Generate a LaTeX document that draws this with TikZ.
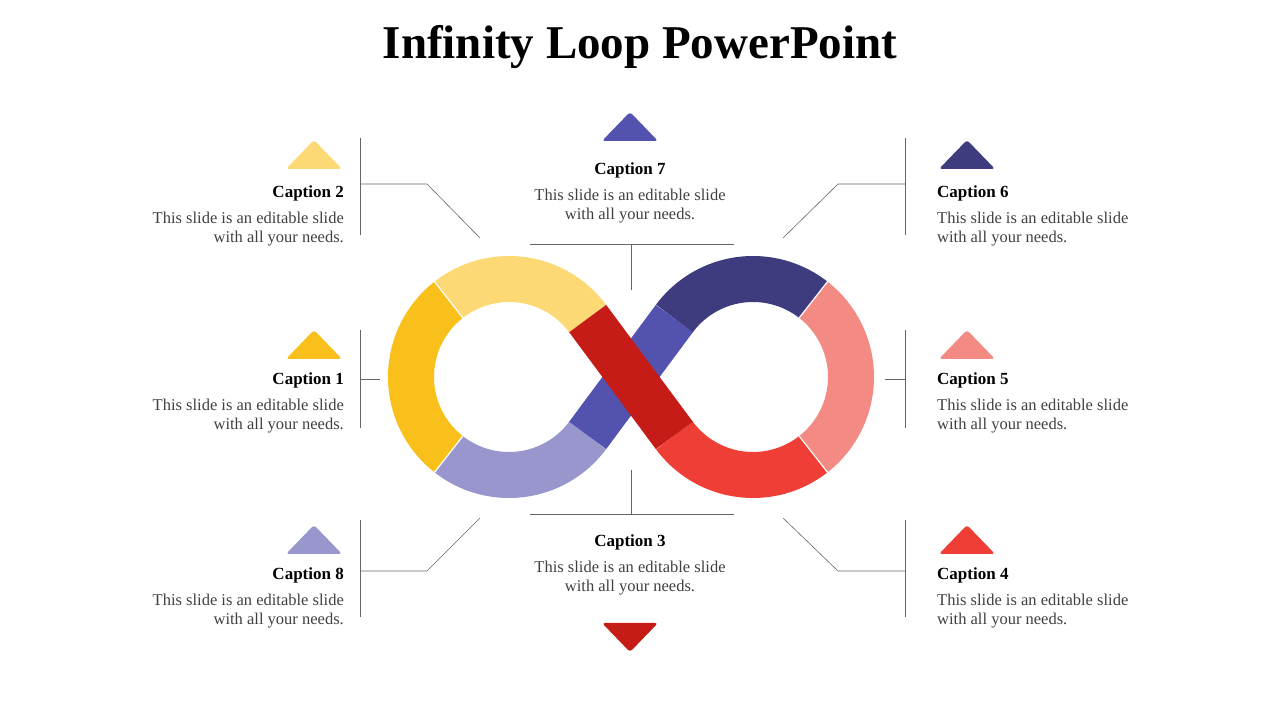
\documentclass[tikz,border=0pt]{standalone}
\usepackage{fontspec}
\setmainfont{Liberation Serif}
\usetikzlibrary{calc}
\definecolor{ylt}{HTML}{FCD975}
\definecolor{ydk}{HTML}{F9BF1A}
\definecolor{lav}{HTML}{9896CC}
\definecolor{blu}{HTML}{5352AE}
\definecolor{nav}{HTML}{3E3B7E}
\definecolor{sal}{HTML}{F48A84}
\definecolor{rdl}{HTML}{EE3E36}
\definecolor{rdd}{HTML}{C51C17}
\definecolor{txt}{HTML}{404040}
\tikzset{
 band/.style={line width=46pt},
 conn/.style={draw=gray!80!black,line width=0.6pt},
 ttl/.style={font=\fontsize{17}{20}\selectfont\bfseries,inner sep=0},
 body/.style={font=\fontsize{16.5}{19}\selectfont,text=txt,inner sep=0},
 sep/.style={white,line width=1.2pt}
}
\newcommand\uptri[3]{\fill[#3,rounded corners=3pt] (#1-28,#2-14) -- (#1+28,#2-14) -- (#1,#2+15) -- cycle;}
\newcommand\dntri[3]{\fill[#3,rounded corners=3pt] (#1-28,#2+14) -- (#1+28,#2+14) -- (#1,#2-15) -- cycle;}
\begin{document}
\begin{tikzpicture}[x=1pt,y=1pt]
\useasboundingbox (0,0) rectangle (1280,720);
\node[font=\fontsize{47}{50}\selectfont\bfseries] (title) at (640,673) {Infinity Loop PowerPoint};
\coordinate (L) at (509,343);
\coordinate (R) at (753,343);
% left circle
\draw[band,ylt] ($(L)+(36.6:98)$) arc (36.6:128:98);
\draw[band,ydk] ($(L)+(128:98)$) arc (128:232:98);
\draw[band,lav] ($(L)+(232:98)$) arc (232:323.4:98);
% right circle
\draw[band,nav] ($(R)+(143.4:98)$) arc (143.4:52:98);
\draw[band,sal] ($(R)+(52:98)$) arc (52:-52:98);
\draw[band,rdl] ($(R)+(-52:98)$) arc (-52:-143.4:98);
% crossing bands
\draw[band,blu] ($(L)+(-36.6:98)$) -- ($(R)+(143.4:98)$);
\draw[band,rdd] ($(L)+(36.6:98)$) -- ($(R)+(-143.4:98)$);
% separators
\foreach \a in {128,232}{\draw[sep] ($(L)+(\a:75)$) -- ($(L)+(\a:121)$);}
\foreach \a in {52,-52}{\draw[sep] ($(R)+(\a:75)$) -- ($(R)+(\a:121)$);}
% markers
\uptri{314}{565}{ylt}
\uptri{314}{375}{ydk}
\uptri{314}{180}{lav}
\uptri{630}{593}{blu}
\dntri{630}{83}{rdd}
\uptri{967}{565}{nav}
\uptri{967}{375}{sal}
\uptri{967}{180}{rdl}
% captions left
\node[ttl,anchor=base east] (c2) at (344,522) {Caption 2};
\node[body,anchor=north east,align=right] (b2) at (344,508) {This slide is an editable slide\\with all your needs.};
\node[ttl,anchor=base east] (c1) at (344,335) {Caption 1};
\node[body,anchor=north east,align=right] (b1) at (344,321) {This slide is an editable slide\\with all your needs.};
\node[ttl,anchor=base east] (c8) at (344,140) {Caption 8};
\node[body,anchor=north east,align=right] (b8) at (344,126) {This slide is an editable slide\\with all your needs.};
% right
\node[ttl,anchor=base west] (c6) at (937,522) {Caption 6};
\node[body,anchor=north west,align=left] (b6) at (937,508) {This slide is an editable slide\\with all your needs.};
\node[ttl,anchor=base west] (c5) at (937,335) {Caption 5};
\node[body,anchor=north west,align=left] (b5) at (937,321) {This slide is an editable slide\\with all your needs.};
\node[ttl,anchor=base west] (c4) at (937,140) {Caption 4};
\node[body,anchor=north west,align=left] (b4) at (937,126) {This slide is an editable slide\\with all your needs.};
% center
\node[ttl,anchor=base] (c7) at (630,545) {Caption 7};
\node[body,anchor=north,align=center] (b7) at (630,531) {This slide is an editable slide\\with all your needs.};
\node[ttl,anchor=base] (c3) at (630,173) {Caption 3};
\node[body,anchor=north,align=center] (b3) at (630,159) {This slide is an editable slide\\with all your needs.};
% connectors
\draw[conn] (360,582) -- (360,485);
\draw[conn] (360,536) -- (427,536) -- (480,482);
\draw[conn] (360,390) -- (360,292);
\draw[conn] (360,341) -- (380,341);
\draw[conn] (360,200) -- (360,103);
\draw[conn] (360,149) -- (427,149) -- (480,202);
\draw[conn] (905,582) -- (905,485);
\draw[conn] (905,536) -- (838,536) -- (783,482);
\draw[conn] (905,390) -- (905,292);
\draw[conn] (905,341) -- (885,341);
\draw[conn] (905,200) -- (905,103);
\draw[conn] (905,149) -- (838,149) -- (783,202);
\draw[conn] (530,476) -- (734,476);
\draw[conn] (631,476) -- (631,430);
\draw[conn] (530,206) -- (734,206);
\draw[conn] (631,206) -- (631,250);
\end{tikzpicture}
\end{document}
